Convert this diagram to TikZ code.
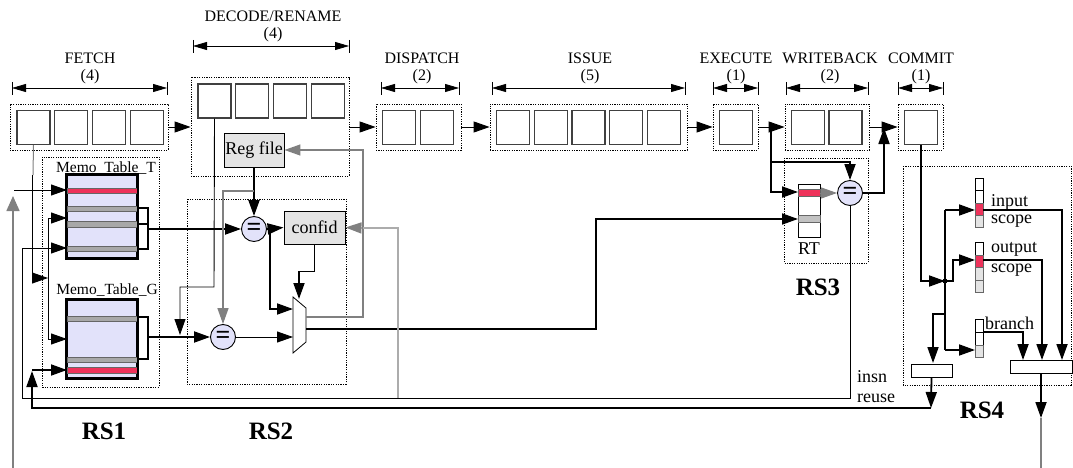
\documentclass[tikz,border=0pt]{standalone}
\usepackage{fontspec}
\setmainfont{Liberation Serif}
\usetikzlibrary{arrows.meta,positioning,calc}

\definecolor{hitred}{RGB}{238,50,90}
\definecolor{memofill}{RGB}{226,226,250}
\definecolor{rowgray}{RGB}{168,168,168}
\definecolor{unitgray}{RGB}{228,228,228}
\definecolor{wiregray}{RGB}{128,128,128}
\definecolor{wirelight}{RGB}{172,172,172}

\begin{document}
\begin{tikzpicture}[
    x=1pt, y=-1pt,
    tip/.style={-{Triangle[length=16pt,width=11pt]}},
    wire/.style={line width=0.9pt},
    bus/.style={line width=1.8pt},
    graywire/.style={draw=wiregray, line width=1.3pt},
    slot/.style={draw=black!75, line width=1.2pt, minimum width=33pt, minimum height=34pt, inner sep=0pt},
    stagebox/.style={draw, dash pattern=on 1.2pt off 1.2pt, line width=0.8pt, inner sep=0pt},
    regionbox/.style={draw, dash pattern=on 1.2pt off 1.2pt, line width=0.8pt},
    stagelabel/.style={font=\fontsize{16}{17}\selectfont, inner sep=0pt},
    dimline/.style={{Triangle[length=14pt,width=8pt]}-{Triangle[length=14pt,width=8pt]}, line width=0.8pt},
    unit/.style={draw, fill=unitgray, line width=0.9pt, font=\fontsize{18}{20}\selectfont, inner sep=0pt},
    cmp/.style={draw, circle, fill=memofill, line width=0.9pt, minimum size=25pt, inner sep=0pt, font=\bfseries\fontsize{26}{26}\selectfont},
    memo/.style={draw, fill=memofill, line width=1.6pt, minimum width=70pt, inner sep=0pt},
    hitrow/.style={fill=hitred, draw=black!60, line width=0.6pt},
    grayrow/.style={fill=rowgray, draw=black!60, line width=0.6pt},
    cell/.style={draw, line width=0.7pt, minimum width=8pt, inner sep=0pt},
    smallbox/.style={draw, fill=white, line width=0.9pt, minimum height=13pt, inner sep=0pt},
    lbl/.style={font=\fontsize{18}{20}\selectfont, inner sep=0pt},
    rslabel/.style={font=\bfseries\fontsize{25}{27}\selectfont, inner sep=0pt},
]
    \useasboundingbox (0,0) rectangle (1073,468);

    % pipeline stage headings
    \foreach \lab/\cnt/\cx/\yb/\xa/\xb [count=\k] in {FETCH/4/90/64/12/167, DECODE\slash RENAME/4/273/22/193/349, DISPATCH/2/422/64/381/459, ISSUE/5/590/64/492/685, EXECUTE/1/736/64/713/758, WRITEBACK/2/830/64/786/868, COMMIT/1/921/64/898/943} {
        \node[stagelabel, anchor=base] (head\k) at (\cx,\yb) {\lab};
        \node[stagelabel, anchor=base] (width\k) at (\cx,\yb+17) {(\cnt)};
        \draw[dimline] (\xa,\yb+24) -- (\xb,\yb+24);
        \draw[line width=0.8pt] (\xa,\yb+18) -- (\xa,\yb+31) (\xb,\yb+18) -- (\xb,\yb+31);
    }

    % stage boxes and slots
    \node[stagebox, minimum width=158pt, minimum height=46pt] (fetchbox) at (89,127) {};
    \node[stagebox, minimum width=158pt, minimum height=99pt] (decodebox) at (270,126.5) {};
    \node[stagebox, minimum width=85pt, minimum height=46pt] (dispbox) at (418.5,127) {};
    \node[stagebox, minimum width=197pt, minimum height=46pt] (issuebox) at (588.5,127) {};
    \node[stagebox, minimum width=45pt, minimum height=46pt] (exebox) at (735.5,127) {};
    \node[stagebox, minimum width=84pt, minimum height=46pt] (wbbox) at (827,127) {};
    \node[stagebox, minimum width=45pt, minimum height=46pt] (commitbox) at (920.5,127) {};

    \foreach \i in {0,...,3} \node[slot] (f\i) at ({33.5+37.7*\i},127.5) {};
    \foreach \i in {0,...,3} \node[slot] (d\i) at ({214.5+37.7*\i},101) {};
    \foreach \i in {0,1} \node[slot] (p\i) at ({399+38*\i},127.5) {};
    \foreach \i in {0,...,4} \node[slot] (s\i) at ({513+37.75*\i},127.5) {};
    \node[slot] (e0) at (736,127.5) {};
    \foreach \i in {0,1} \node[slot] (w\i) at ({808+37.5*\i},127.5) {};
    \node[slot] (c0) at (921,127.5) {};

    \draw[wire, tip] (fetchbox.east) -- (fetchbox.east -| decodebox.west);
    \draw[wire, tip] (decodebox.east |- dispbox.west) -- (dispbox.west);
    \draw[wire, tip] (dispbox.east) -- (issuebox.west);
    \draw[wire, tip] (issuebox.east) -- (exebox.west);
    \draw[wire, tip] (exebox.east) -- (wbbox.west);
    \draw[wire, tip] (wbbox.east) -- (commitbox.west);

    % regions
    \draw[regionbox] (42,157) rectangle (159,387);
    \draw[regionbox] (187,199) rectangle (346,384);
    \draw[regionbox] (784,158) rectangle (868,263);
    \draw[regionbox] (903,166) rectangle (1071,385);
    \node[rslabel] (rs1) at (104,431) {RS1};
    \node[rslabel] (rs2) at (271,431) {RS2};
    \node[rslabel] (rs3) at (818,287) {RS3};
    \node[rslabel] (rs4) at (982,410) {RS4};

    % RS1: memo tables
    \node[memo, minimum height=83pt] (memoT) at (102,216.5) {};
    \draw[hitrow] (67,188) rectangle (137,193);
    \draw[grayrow] (67,206) rectangle (137,211) (67,221) rectangle (137,227) (67,246) rectangle (137,251);
    \draw[line width=1.6pt] (memoT.north west) rectangle (memoT.south east);
    \node[font=\fontsize{15.5}{17}\selectfont, inner sep=0pt] (memoTname) at (106,168) {Memo\_Table\_T};

    \node[memo, minimum height=78pt] (memoG) at (102,339) {};
    \draw[grayrow] (67,316) rectangle (137,321) (67,357) rectangle (137,362);
    \draw[hitrow] (67,367) rectangle (137,373);
    \draw[line width=1.6pt] (memoG.north west) rectangle (memoG.south east);
    \node[font=\fontsize{15.5}{17}\selectfont, inner sep=0pt] (memoGname) at (107,290) {Memo\_Table\_G};

    \draw[line width=2.2pt] (137,208) -| (148,249) -- (137,249) (137,224) -- (148,224);
    \draw[line width=2.2pt] (137,317) -| (148,359) -- (137,359);

    % RS2: compare and select
    \node[unit, minimum width=60pt, minimum height=34pt] (regfile) at (254,150) {Reg file};
    \node[unit, minimum width=61pt, minimum height=33pt] (confid) at (314.5,227.5) {confid};
    \node[cmp] (eq1) at (254,229) {=};
    \node[cmp] (eq2) at (223,337) {=};
    \draw[fill=white, line width=0.8pt] (293,297) -- (306,308) -- (306,342) -- (293,353) -- cycle;
    \coordinate (muxA) at (293,309);
    \coordinate (muxB) at (293,337);
    \coordinate (muxOut) at (306,329);
    \coordinate (muxFb) at (306,317);

    \draw[bus, tip] (148,229) -- (eq1.west);
    \draw[bus, tip] (148,337) -- (eq2.west);
    \draw[bus, tip] (regfile.south) -- (eq1.north);
    \draw[graywire, tip] (254,191) -| (eq2.north);
    \draw[bus, tip] (eq1.east) -- (confid.west);
    \draw[bus, tip] (270,229) |- (muxA);
    \draw[bus, tip] (confid.south) -- ++(0,27) -| (299,299);
    \draw[wire, tip] (eq2.east) -- (muxB);
    \draw[wire, tip] (d0.south) -- (214,287) -| (180,335);

    % fetch into memo tables
    \draw[graywire, line width=1pt] (f0.south) -- (33,175);
    \draw[wire, tip] (32,175) |- (48,278);
    \draw[wire, tip] (48,278) |- (67,218);
    \draw[wire, tip] (48,278) |- (67,339);
    \draw[graywire, line width=1.6pt, -{Triangle[length=15pt,width=13pt]}] (13,468) -- (13,196);
    \draw[wire, tip] (14,190) -- (67,190);

    % RS3: result table
    \node[cell, minimum width=22pt, minimum height=53pt] (rt) at (809,210.5) {};
    \draw[hitrow] (798,189) rectangle (820,196);
    \draw[fill=rowgray!70, draw=black!60, line width=0.6pt] (798,215) rectangle (820,222);
    \node[lbl] (rtname) at (809,249) {RT};
    \node[cmp] (eq3) at (850,193) {=};

    \draw[bus, tip] (muxOut) -| (596,219) -- (798,219);
    \draw[graywire, tip] (muxFb) -| (363,150) -- (regfile.east);
    \draw[graywire, tip] (363,228) -- (confid.east);
    \draw[draw=wirelight, line width=1.1pt] (398,398) |- (363,228);

    \draw[bus, tip] (771,127) |- (798,192);
    \draw[bus, tip] (771,162) -| (eq3.north);
    \draw[graywire, line width=1pt, tip] (820,193) -- (eq3.west);
    \draw[bus, tip] (eq3.east) -| (884,128);
    \draw[wire, tip] (eq3.south) |- (22,398) |- (67,248);

    % RS4: scope tables
    \node[cell, minimum height=49pt] (inscope) at (979,202.5) {};
    \draw[line width=0.6pt] (975,190) -- (983,190);
    \draw[hitrow] (975,203) rectangle (983,215);
    \draw[fill=unitgray, draw=black!60, line width=0.6pt] (975,215) rectangle (983,227);
    \node[cell, minimum height=50pt] (outscope) at (979,267) {};
    \draw[hitrow] (975,255) rectangle (983,267);
    \draw[fill=unitgray, draw=black!60, line width=0.6pt] (975,267) rectangle (983,280) (975,280) rectangle (983,292);
    \node[cell, minimum height=38pt] (brcol) at (979,338) {};
    \draw[line width=0.6pt] (975,332) -- (983,332);
    \draw[fill=unitgray, draw=black!60, line width=0.6pt] (975,345) rectangle (983,357);

    \node[lbl, anchor=west] (inname) at (991,202) {input};
    \node[lbl, anchor=west] (inscopename) at (991,221) {scope};
    \node[lbl, anchor=west] (outname) at (991,249) {output};
    \node[lbl, anchor=west] (outscopename) at (991,270) {scope};
    \node[lbl, anchor=west] (brname) at (985,323) {branch};

    \node[smallbox, minimum width=41pt] (insnbox) at (931.5,370.5) {};
    \node[smallbox, minimum width=62pt] (outbox) at (1041,366.5) {};
    \node[lbl, anchor=west] (insnname) at (857,377) {insn};
    \node[lbl, anchor=west] (reusename) at (857,398) {reuse};

    \draw[bus, tip] (c0.south) |- (945,281);
    \fill (945,281) circle (2.5pt);
    \draw[bus] (945,210) -- (945,350);
    \draw[bus, tip] (945,210) -- (975,210);
    \draw[bus, tip] (945,281) -| (953,260) -- (975,260);
    \draw[bus, tip] (945,314) -| (933,363);
    \draw[bus, tip] (945,350) -- (975,350);
    \draw[bus, tip] (983,210) -| (1062,360);
    \draw[bus, tip] (983,260) -| (1042,360);
    \draw[bus, tip] (984,332) -| (1023,360);
    \draw[bus, tip] (outbox.south) -- (1041,418);
    \draw[graywire] (1041,418) -- (1041,468);

    % instruction reuse feedback
    \draw[bus, tip] (insnbox.south) -- (931,408);
    \draw[bus, tip] (931,408) -| (32,371);
    \draw[bus, tip] (32,370) -- (67,370);
\end{tikzpicture}
\end{document}
